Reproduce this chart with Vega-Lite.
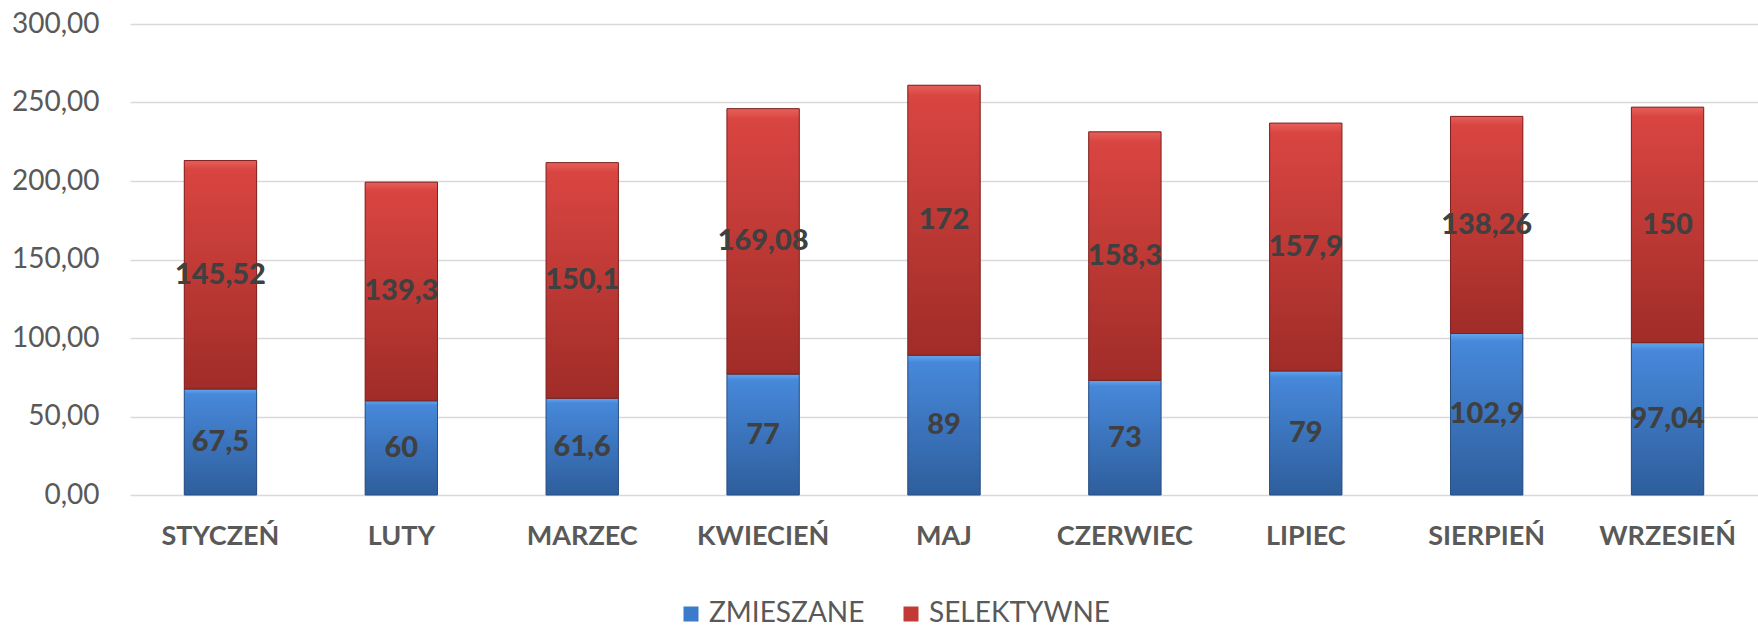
{
  "$schema": "https://vega.github.io/schema/vega-lite/v6.json",
  "width": 1628,
  "height": 471,
  "autosize": {"type": "none"},
  "padding": {"left": 130, "top": 24, "right": 0, "bottom": 133},
  "background": "white",
  "config": {
    "view": {"stroke": null},
    "font": "Lato",
    "locale": {"number": {"decimal": ",", "thousands": " ", "grouping": [3], "currency": ["", " zł"]}}
  },
  "data": {
    "values": [
      {"month": "STYCZEŃ", "series": "ZMIESZANE", "value": 67.5},
      {"month": "STYCZEŃ", "series": "SELEKTYWNE", "value": 145.52},
      {"month": "LUTY", "series": "ZMIESZANE", "value": 60},
      {"month": "LUTY", "series": "SELEKTYWNE", "value": 139.3},
      {"month": "MARZEC", "series": "ZMIESZANE", "value": 61.6},
      {"month": "MARZEC", "series": "SELEKTYWNE", "value": 150.1},
      {"month": "KWIECIEŃ", "series": "ZMIESZANE", "value": 77},
      {"month": "KWIECIEŃ", "series": "SELEKTYWNE", "value": 169.08},
      {"month": "MAJ", "series": "ZMIESZANE", "value": 89},
      {"month": "MAJ", "series": "SELEKTYWNE", "value": 172},
      {"month": "CZERWIEC", "series": "ZMIESZANE", "value": 73},
      {"month": "CZERWIEC", "series": "SELEKTYWNE", "value": 158.3},
      {"month": "LIPIEC", "series": "ZMIESZANE", "value": 79},
      {"month": "LIPIEC", "series": "SELEKTYWNE", "value": 157.9},
      {"month": "SIERPIEŃ", "series": "ZMIESZANE", "value": 102.9},
      {"month": "SIERPIEŃ", "series": "SELEKTYWNE", "value": 138.26},
      {"month": "WRZESIEŃ", "series": "ZMIESZANE", "value": 97.04},
      {"month": "WRZESIEŃ", "series": "SELEKTYWNE", "value": 150}
    ]
  },
  "transform": [
    {"stack": "value", "groupby": ["month"], "sort": [{"field": "series", "order": "descending"}], "as": ["v0", "v1"]}
  ],
  "encoding": {
    "x": {
      "field": "month",
      "type": "nominal",
      "sort": ["STYCZEŃ", "LUTY", "MARZEC", "KWIECIEŃ", "MAJ", "CZERWIEC", "LIPIEC", "SIERPIEŃ", "WRZESIEŃ"],
      "scale": {"paddingInner": 0.6, "paddingOuter": 0.3},
      "axis": {
        "title": null, "labelAngle": 0, "domain": false, "ticks": false,
        "labelFontSize": 27, "labelFontWeight": "bold", "labelColor": "#595959",
        "labelPadding": 28, "labelFont": "Lato"
      }
    }
  },
  "layer": [
    {
      "mark": {"type": "bar"},
      "encoding": {
        "y": {
          "field": "v0",
          "type": "quantitative",
          "scale": {"domain": [0, 300], "nice": false},
          "axis": {
            "title": null, "values": [0, 50, 100, 150, 200, 250, 300], "format": ".2f",
            "domain": false, "ticks": false, "labelFontSize": 28, "labelColor": "#595959",
            "labelPadding": 31, "gridColor": "#d9d9d9", "gridWidth": 1.5, "labelFont": "Lato"
          }
        },
        "y2": {"field": "v1"},
        "color": {
          "field": "series",
          "type": "nominal",
          "scale": {"domain": ["ZMIESZANE", "SELEKTYWNE"], "range": ["#3c7bcc", "#c23a35"]},
          "legend": {
            "title": null, "orient": "none", "direction": "horizontal",
            "legendX": 547, "legendY": 576,
            "symbolType": "square", "symbolSize": 225, "symbolStrokeWidth": 0,
            "labelFontSize": 28, "labelColor": "#595959", "labelFont": "Lato",
            "labelOffset": 4, "columnPadding": 32, "labelLimit": 400
          }
        }
      }
    },
    {
      "mark": {"type": "bar", "strokeWidth": 1},
      "encoding": {
        "y": {"field": "v0", "type": "quantitative"},
        "y2": {"field": "v1"},
        "fill": {
          "condition": {
            "test": "datum.series === 'ZMIESZANE'",
            "value": {"gradient": "linear", "x1": 0, "y1": 0, "x2": 0, "y2": 1,
              "stops": [{"offset": 0, "color": "#63a6ee"}, {"offset": 0.05, "color": "#4788da"}, {"offset": 1, "color": "#2e5e9c"}]}
          },
          "value": {"gradient": "linear", "x1": 0, "y1": 0, "x2": 0, "y2": 1,
            "stops": [{"offset": 0, "color": "#e6605a"}, {"offset": 0.04, "color": "#d94541"}, {"offset": 1, "color": "#a02c28"}]}
        },
        "stroke": {
          "condition": {"test": "datum.series === 'ZMIESZANE'", "value": "#2a4f82"},
          "value": "#7e2320"
        }
      }
    },
    {
      "transform": [{"calculate": "(datum.v0 + datum.v1) / 2", "as": "mid"}],
      "mark": {"type": "text", "fontSize": 29, "fontWeight": 900, "color": "#404040", "font": "Lato", "baseline": "middle"},
      "encoding": {
        "y": {"field": "mid", "type": "quantitative"},
        "text": {"field": "value", "type": "quantitative", "format": "~g"}
      }
    }
  ]
}
